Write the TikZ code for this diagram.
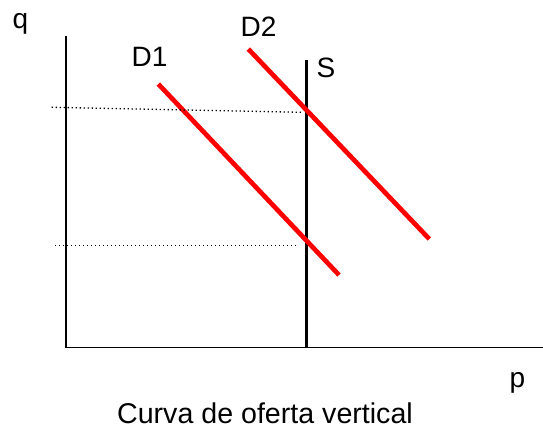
\documentclass[tikz,border=0pt]{standalone}
\usepackage{fontspec}
\setmainfont{Liberation Sans}
\begin{document}
\begin{tikzpicture}[x=1pt,y=-1pt,
  lbl/.style={font=\fontsize{28}{34}\selectfont, inner sep=0pt, anchor=base west},
  axis/.style={line width=1.7pt, black},
  supply/.style={line width=3.4pt, black},
  demand/.style={line width=4.7pt, red},
  guide/.style={line width=1.3pt, black, dash pattern=on 1.3pt off 2.7pt}]
\useasboundingbox (0,0) rectangle (543,438);
% axes
\coordinate (top) at (66,36);
\coordinate (origin) at (66,347.5);
\coordinate (right) at (543,347.5);
\draw[axis] (top) -- (origin) -- (right);
% supply
\coordinate (s1) at (306.5,60);
\coordinate (s2) at (306.5,348);
\draw[supply] (s1) -- (s2);
% demand curves
\coordinate (d1a) at (158.3,84);
\coordinate (d1b) at (339,275);
\coordinate (d2a) at (248.3,49);
\coordinate (d2b) at (429.3,239);
\draw[demand] (d1a) -- (d1b);
\draw[demand] (d2a) -- (d2b);
% guides
\coordinate (g1a) at (51.7,107.3);
\coordinate (g1b) at (301.7,112.3);
\coordinate (g2a) at (55,245.7);
\coordinate (g2b) at (298.3,245.7);
\draw[guide] (g1a) -- (g1b);
\draw[guide] (g2a) -- (g2b);
% labels
\node[lbl] (q) at (12.5,28.5) {q};
\node[lbl] (D2) at (240.5,36.7) {D2};
\node[lbl] (D1) at (131.5,66.7) {D1};
\node[lbl] (S) at (316.5,77.7) {S};
\node[lbl] (p) at (509.5,387.5) {p};
\node[font=\fontsize{28.6}{34}\selectfont, inner sep=0pt, anchor=base] (cap) at (265,423) {Curva de oferta vertical};
\end{tikzpicture}
\end{document}
